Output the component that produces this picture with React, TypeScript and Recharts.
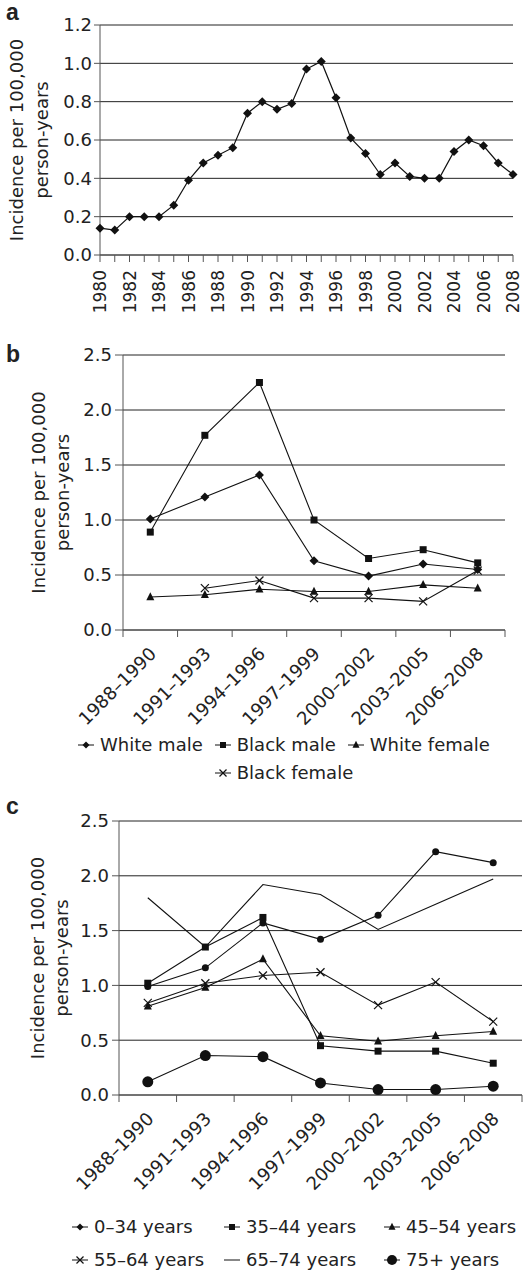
import React from 'react';
import { LineChart, Line, XAxis, YAxis, CartesianGrid, Label } from 'recharts';

// panel a: overall incidence by year
const YEARS = [1980, 1981, 1982, 1983, 1984, 1985, 1986, 1987, 1988, 1989, 1990, 1991, 1992, 1993, 1994,
  1995, 1996, 1997, 1998, 1999, 2000, 2001, 2002, 2003, 2004, 2005, 2006, 2007, 2008];
const OVERALL = [0.14, 0.13, 0.2, 0.2, 0.2, 0.26, 0.39, 0.48, 0.52, 0.56, 0.74, 0.8, 0.76, 0.79, 0.97,
  1.01, 0.82, 0.61, 0.53, 0.42, 0.48, 0.41, 0.4, 0.4, 0.54, 0.6, 0.57, 0.48, 0.42];
const YEAR_LABELS = [1980, 1982, 1984, 1986, 1988, 1990, 1992, 1994, 1996, 1998, 2000, 2002, 2004, 2006, 2008];
const TICKS_A = [0, 0.2, 0.4, 0.6, 0.8, 1.0, 1.2];

// panels b and c: 3-year periods
const PERIODS = ['1988–1990', '1991–1993', '1994–1996', '1997–1999', '2000–2002', '2003–2005', '2006–2008'];
const TICKS_BC = [0, 0.5, 1.0, 1.5, 2.0, 2.5];

// panel b: by race and sex
const WHITE_MALE = [1.01, 1.21, 1.41, 0.63, 0.49, 0.6, 0.55];
const BLACK_MALE = [0.89, 1.77, 2.25, 1.0, 0.65, 0.73, 0.61];
const WHITE_FEMALE = [0.3, 0.32, 0.37, 0.35, 0.35, 0.41, 0.38];
const BLACK_FEMALE = [null, 0.38, 0.45, 0.29, 0.29, 0.26, 0.54];

// panel c: by age group
const AGE_0_34 = [0.99, 1.16, 1.57, 1.42, 1.64, 2.22, 2.12];
const AGE_35_44 = [1.02, 1.35, 1.62, 0.45, 0.4, 0.4, 0.29];
const AGE_45_54 = [0.81, 0.98, 1.24, 0.54, 0.49, 0.54, 0.58];
const AGE_55_64 = [0.84, 1.02, 1.09, 1.12, 0.82, 1.03, 0.67];
const AGE_65_74 = [1.8, 1.35, 1.92, 1.83, 1.51, 1.74, 1.97];
const AGE_75_PLUS = [0.12, 0.36, 0.35, 0.11, 0.05, 0.05, 0.08];

const INK = '#111';
const AXIS = '#555';
const FONT = '"DejaVu Sans", "Liberation Sans", Arial, sans-serif';
const FS = 18;

const dataA = YEARS.map((y, i) => ({ year: y, value: OVERALL[i] }));
const dataB = PERIODS.map((p, i) => ({
  x: i + 0.5, wm: WHITE_MALE[i], bm: BLACK_MALE[i], wf: WHITE_FEMALE[i], bf: BLACK_FEMALE[i],
}));
const dataC = PERIODS.map((p, i) => ({
  x: i + 0.5, a1: AGE_0_34[i], a2: AGE_35_44[i], a3: AGE_45_54[i],
  a4: AGE_55_64[i], a5: AGE_65_74[i], a6: AGE_75_PLUS[i],
}));

type Marker = (cx: number, cy: number) => React.ReactElement;
const diamond = (s: number): Marker => (cx, cy) => (
  <polygon points={`${cx},${cy - s} ${cx + s},${cy} ${cx},${cy + s} ${cx - s},${cy}`} fill={INK} />
);
const square = (s: number): Marker => (cx, cy) => (
  <rect x={cx - s / 2} y={cy - s / 2} width={s} height={s} fill={INK} />
);
const triangle = (s: number): Marker => (cx, cy) => (
  <polygon points={`${cx},${cy - s * 0.6} ${cx + s / 2},${cy + s * 0.4} ${cx - s / 2},${cy + s * 0.4}`} fill={INK} />
);
const cross = (s: number): Marker => (cx, cy) => (
  <g stroke={INK} strokeWidth={1.2}>
    <line x1={cx - s} y1={cy - s} x2={cx + s} y2={cy + s} />
    <line x1={cx - s} y1={cy + s} x2={cx + s} y2={cy - s} />
  </g>
);
const circle = (r: number): Marker => (cx, cy) => <circle cx={cx} cy={cy} r={r} fill={INK} />;
const none: Marker = () => <g />;

const dotOf = (m: Marker) => (p: any) => (
  <g key={`dot-${p.index}`}>{p.cy == null || p.value == null ? null : m(p.cx, p.cy)}</g>
);

const yLabel = (b1: number, b2: number) => (props: any) => {
  const vb = props.viewBox || {};
  const cy = vb.y + vb.height / 2;
  return (
    <g fill="#222" fontSize={FS}>
      <text x={b1} y={cy} textAnchor="middle" transform={`rotate(-90, ${b1}, ${cy})`}>Incidence per 100,000</text>
      <text x={b2} y={cy} textAnchor="middle" transform={`rotate(-90, ${b2}, ${cy})`}>person-years</text>
    </g>
  );
};

const YearTick = (props: any) => {
  const { x, y, payload } = props;
  const v = payload.value;
  return (
    <g>
      <line x1={x} x2={x} y1={y} y2={y + 7} stroke={AXIS} />
      {YEAR_LABELS.includes(v) && (
        <text transform={`translate(${x + 6},${y + 15}) rotate(-90)`} textAnchor="end" fontSize={17} fill="#222">
          {v}
        </text>
      )}
    </g>
  );
};

const PeriodTick = (props: any) => {
  const { x, y, payload } = props;
  const v = payload.value;
  if (Number.isInteger(v)) return <line x1={x} x2={x} y1={y} y2={y + 7} stroke={AXIS} />;
  return (
    <text transform={`translate(${x + 7},${y + 25}) rotate(-45)`} textAnchor="end" fontSize={FS} fill="#222">
      {PERIODS[Math.floor(v)]}
    </text>
  );
};

const PERIOD_TICKS = [0, 0.5, 1, 1.5, 2, 2.5, 3, 3.5, 4, 4.5, 5, 5.5, 6, 6.5, 7];

const LegendItem = ({ marker, label }: { marker: Marker; label: string }) => (
  <span style={{ display: 'inline-flex', alignItems: 'center', whiteSpace: 'nowrap' }}>
    <svg width={20} height={14} style={{ marginRight: 4 }}>
      <line x1={2} x2={18} y1={7} y2={7} stroke={INK} />
      {marker(10, 7)}
    </svg>
    {label}
  </span>
);

const Letter = ({ ch, top }: { ch: string; top: number }) => (
  <div style={{ position: 'absolute', left: 6, top, fontSize: 23, fontWeight: 'bold', lineHeight: '23px',
    fontFamily: '"Liberation Sans", Arial, sans-serif' }}>{ch}</div>
);

const yTickFmt = (v: number) => v.toFixed(1);

export default function App() {
  return (
    <div style={{ position: 'absolute', left: 0, top: 0, width: 525, height: 1273, background: '#fff', fontFamily: FONT, color: '#222' }}>
      <Letter ch="a" top={1} />
      <div style={{ position: 'absolute', left: 0, top: 0 }}>
        <LineChart width={525} height={320} data={dataA} margin={{ top: 25, right: 12, left: 0, bottom: 0 }}>
          <CartesianGrid vertical={false} stroke="#222" />
          <XAxis dataKey="year" type="number" domain={[1980, 2008]} ticks={YEARS} interval={0}
            tick={<YearTick />} tickSize={0} tickMargin={0} tickLine={false} stroke={AXIS} height={65} />
          <YAxis domain={[0, 1.2]} ticks={TICKS_A} tickFormatter={yTickFmt} width={100} stroke={AXIS}
            tickSize={6} tickMargin={2} tick={{ fill: '#222', fontSize: FS }}>
            <Label content={yLabel(23, 48)} />
          </YAxis>
          <Line dataKey="value" stroke={INK} strokeWidth={1.2} dot={dotOf(diamond(4.5))} isAnimationActive={false} />
        </LineChart>
      </div>

      <Letter ch="b" top={343} />
      <div style={{ position: 'absolute', left: 0, top: 330 }}>
        <LineChart width={525} height={400} data={dataB} margin={{ top: 25, right: 20, left: 0, bottom: 0 }}>
          <CartesianGrid vertical={false} stroke="#222" />
          <XAxis dataKey="x" type="number" domain={[0, 7]} ticks={PERIOD_TICKS} interval={0}
            tick={<PeriodTick />} tickSize={0} tickMargin={0} tickLine={false} stroke={AXIS} height={100} />
          <YAxis domain={[0, 2.5]} ticks={TICKS_BC} tickFormatter={yTickFmt} width={123} stroke={AXIS}
            tickSize={8} tickMargin={3} tick={{ fill: '#222', fontSize: FS }}>
            <Label content={yLabel(45, 69)} />
          </YAxis>
          <Line dataKey="wm" stroke={INK} strokeWidth={1.1} dot={dotOf(diamond(4.5))} isAnimationActive={false} />
          <Line dataKey="bm" stroke={INK} strokeWidth={1.1} dot={dotOf(square(7))} isAnimationActive={false} />
          <Line dataKey="wf" stroke={INK} strokeWidth={1.1} dot={dotOf(triangle(8))} isAnimationActive={false} />
          <Line dataKey="bf" stroke={INK} strokeWidth={1.1} dot={dotOf(cross(4))} isAnimationActive={false} />
        </LineChart>
      </div>
      <div style={{ position: 'absolute', left: 58, top: 731, width: 450, display: 'flex', flexWrap: 'wrap',
        justifyContent: 'center', columnGap: 10, fontSize: FS, lineHeight: '28px' }}>
        <LegendItem marker={diamond(3.5)} label="White male" />
        <LegendItem marker={square(6)} label="Black male" />
        <LegendItem marker={triangle(7)} label="White female" />
        <LegendItem marker={cross(3.5)} label="Black female" />
      </div>

      <Letter ch="c" top={795} />
      <div style={{ position: 'absolute', left: 0, top: 795 }}>
        <LineChart width={525} height={400} data={dataC} margin={{ top: 26, right: 3, left: 0, bottom: 0 }}>
          <CartesianGrid vertical={false} stroke="#222" />
          <XAxis dataKey="x" type="number" domain={[0, 7]} ticks={PERIOD_TICKS} interval={0}
            tick={<PeriodTick />} tickSize={0} tickMargin={0} tickLine={false} stroke={AXIS} height={100} />
          <YAxis domain={[0, 2.5]} ticks={TICKS_BC} tickFormatter={yTickFmt} width={119} stroke={AXIS}
            tickSize={7} tickMargin={3} tick={{ fill: '#222', fontSize: FS }}>
            <Label content={yLabel(44, 68)} />
          </YAxis>
          <Line dataKey="a1" stroke={INK} strokeWidth={1.1} dot={dotOf(circle(3.5))} isAnimationActive={false} />
          <Line dataKey="a2" stroke={INK} strokeWidth={1.1} dot={dotOf(square(7))} isAnimationActive={false} />
          <Line dataKey="a3" stroke={INK} strokeWidth={1.1} dot={dotOf(triangle(8))} isAnimationActive={false} />
          <Line dataKey="a4" stroke={INK} strokeWidth={1.1} dot={dotOf(cross(4))} isAnimationActive={false} />
          <Line dataKey="a5" stroke={INK} strokeWidth={1.1} dot={dotOf(none)} isAnimationActive={false} />
          <Line dataKey="a6" stroke={INK} strokeWidth={1.1} dot={dotOf(circle(5.5))} isAnimationActive={false} />
        </LineChart>
      </div>
      <div style={{ position: 'absolute', left: 70, top: 1210, display: 'grid', gridTemplateColumns: '152px 160px auto',
        fontSize: FS, lineHeight: '33px' }}>
        <LegendItem marker={diamond(3.5)} label="0–34 years" />
        <LegendItem marker={square(6)} label="35–44 years" />
        <LegendItem marker={triangle(7)} label="45–54 years" />
        <LegendItem marker={cross(3.5)} label="55–64 years" />
        <LegendItem marker={none} label="65–74 years" />
        <LegendItem marker={circle(5)} label="75+ years" />
      </div>
    </div>
  );
}
